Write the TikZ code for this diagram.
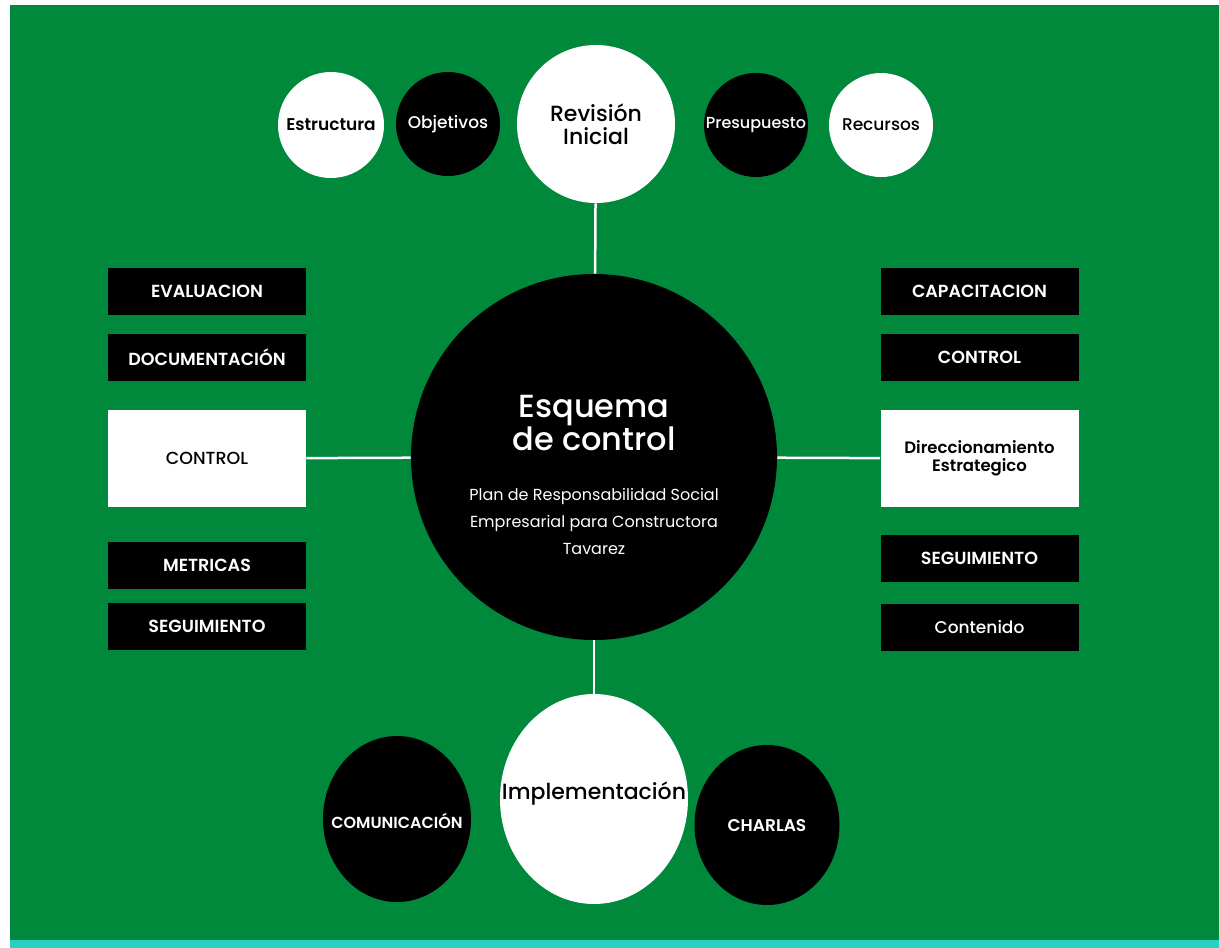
\documentclass[tikz,border=0pt]{standalone}
\usepackage{fontspec}
\setmainfont{Poppins}
\newfontfamily\semib{Poppins SemiBold}
\newfontfamily\medio{Poppins Medium}
\usetikzlibrary{shapes.geometric,positioning}
\definecolor{fondo}{RGB}{0,137,59}
\definecolor{franja}{RGB}{40,208,196}

\begin{document}
\begin{tikzpicture}[x=1pt, y=-1pt, semithick]
\tikzstyle{bola}=[circle, inner sep=0pt, align=center]
\tikzstyle{blanca}=[bola, fill=white, text=black]
\tikzstyle{negra}=[bola, fill=black, text=white]
\tikzstyle{ovalo}=[ellipse, inner sep=0pt, align=center]
\tikzstyle{caja}=[rectangle, inner sep=0pt, minimum width=198pt, minimum height=47pt, fill=black, text=white, align=center, font=\semib\fontsize{17.5}{19}\selectfont]
\tikzstyle{cajab}=[caja, fill=white, text=black, minimum height=97pt]
\tikzstyle{enlace}=[draw=white, line width=2.5pt]

% fondo
\fill[white] (0,0) rectangle (1219,948);
\fill[fondo] (10,5) rectangle (1219,940);
\fill[franja] (10,940) rectangle (1219,948);

% centro
\node[negra, minimum size=366pt] (c) at (594,457) {};
\node[text=white, align=center, font=\medio\fontsize{32}{31}\selectfont] (tit) at (594,423) {Esquema\\de control};
\node[text=white, align=center, font=\fontsize{16}{27}\selectfont] (sub) at (594,521) {Plan de Responsabilidad Social\\Empresarial para Constructora\\Tavarez};

% arriba
\node[blanca, minimum size=158pt, font=\medio\fontsize{22}{23}\selectfont] (r) at (596,124) {Revisión\\Inicial};
\node[blanca, minimum size=106pt, font=\semib\fontsize{17}{19}\selectfont] (e) at (331,125) {Estructura};
\node[negra, minimum size=104pt, font=\medio\fontsize{17}{19}\selectfont] (o) at (448,124) {Objetivos};
\node[negra, minimum size=104pt, font=\medio\fontsize{16}{18}\selectfont] (p) at (756,125) {Presupuesto};
\node[blanca, minimum size=104pt, font=\medio\fontsize{17}{19}\selectfont] (rc) at (881,125) {Recursos};

% izquierda
\node[caja] (l1) at (207,291.5) {EVALUACION};
\node[caja] (l2)[below=18pt of l1] {DOCUMENTACIÓN};
\node[cajab, font=\medio\fontsize{17.5}{19}\selectfont] (l3) at (207,458.5) {CONTROL};
\node[caja] (l4) at (207,565) {METRICAS};
\node[caja] (l5)[below=14pt of l4] {SEGUIMIENTO};

% derecha
\node[caja] (d1) at (979.5,291.5) {CAPACITACION};
\node[caja] (d2)[below=18pt of d1] {CONTROL};
\node[cajab, font=\semib\fontsize{16.5}{18}\selectfont] (d3) at (979.5,458.5) {Direccionamiento\\Estrategico};
\node[caja] (d4) at (979.5,558.5) {SEGUIMIENTO};
\node[caja, font=\medio\fontsize{17}{19}\selectfont] (d5)[below=21pt of d4] {Contenido};

% abajo
\node[ovalo, fill=white, minimum width=188pt, minimum height=210pt] (i) at (594,799) {};
\node[text=black, font=\medio\fontsize{22}{24}\selectfont] (it) at (594,794) {Implementación};
\node[ovalo, fill=black, minimum width=148pt, minimum height=166pt] (cm) at (397,819) {};
\node[text=white, font=\semib\fontsize{16}{18}\selectfont] (cmt) at (397,821) {COMUNICACIÓN};
\node[ovalo, fill=black, minimum width=145pt, minimum height=160pt] (ch) at (767,825) {};
\node[text=white, font=\semib\fontsize{17}{19}\selectfont] (cht) at (767,826) {CHARLAS};

\path[enlace]
(r) edge (c)
(c) edge (i)
(l3) edge (c)
(c) edge (d3);

\end{tikzpicture}
\end{document}
